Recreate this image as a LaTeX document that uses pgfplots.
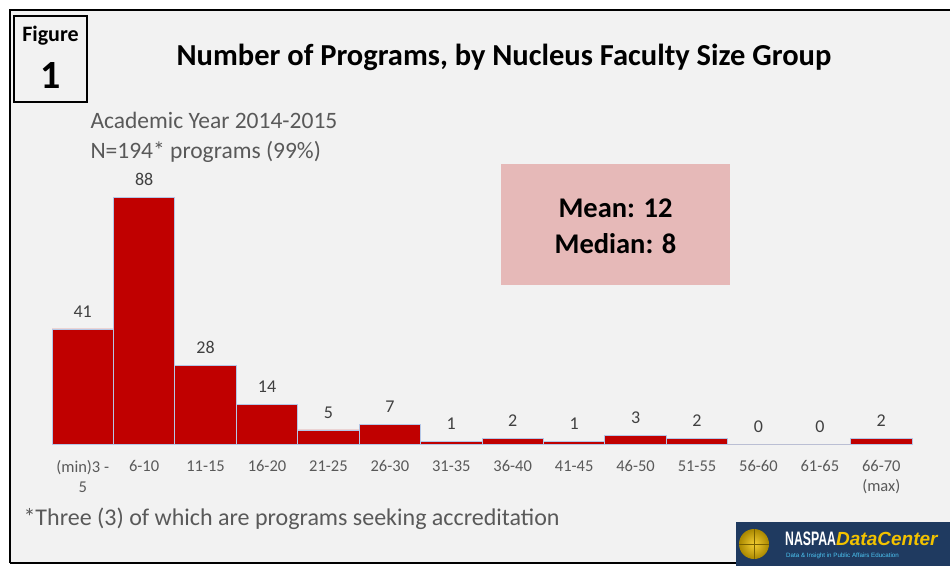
\documentclass[border=0pt]{standalone}
\usepackage{fontspec}
\setmainfont{Carlito}
\newfontfamily\arialfont{Liberation Sans}
\usepackage{pgfplots}
\pgfplotsset{compat=1.18}
\definecolor{barred}{HTML}{C00000}
\definecolor{bgray}{HTML}{F2F2F2}
\definecolor{txtgray}{HTML}{595959}
\definecolor{lblgray}{HTML}{404040}
\definecolor{edgeblue}{HTML}{B4C7E7}
\definecolor{pinkbox}{HTML}{E6B9B8}
\definecolor{navy}{HTML}{1F3A60}
\definecolor{gold}{HTML}{F2C200}
\begin{document}
\begin{tikzpicture}[x=1pt,y=1pt]
\fill[white] (0,0) rectangle (950,566);
\useasboundingbox (0,0) rectangle (950,566);
\fill[bgray] (10,3) rectangle (950,556);
\draw[black, line width=2pt] (10,3) -- (10,556) -- (950,556);
\draw[black, line width=2pt] (10,3) -- (736,3);
% Figure box
\draw[black, line width=2.5pt] (14,464) rectangle (87,550);
\node[font=\bfseries\fontsize{22}{24}\selectfont] at (50.5,530) {Figure};
\node[font=\bfseries\fontsize{40}{42}\selectfont] at (50.5,490) {1};
% Title
\node[font=\bfseries\fontsize{30.5}{34}\selectfont] at (504,509) {Number of Programs, by Nucleus Faculty Size Group};
\node[anchor=west, text=txtgray, font=\fontsize{23.5}{26}\selectfont] at (87,446) {Academic Year 2014-2015};
\node[anchor=west, text=txtgray, font=\fontsize{23.5}{26}\selectfont] at (87,414) {N=194* programs (99\%)};
% Mean box
\fill[pinkbox] (501,281) rectangle (730,402);
\node[font=\bfseries\fontsize{28.5}{32}\selectfont] at (615.5,358) {Mean: 12};
\node[font=\bfseries\fontsize{28.5}{32}\selectfont] at (615.5,322) {Median: 8};
% Footnote
\node[anchor=west, text=txtgray, font=\fontsize{24}{26}\selectfont] at (20,47) {*Three (3) of which are programs seeking accreditation};
% Logo
\fill[navy] (736,0) rectangle (950,44);
\shade[inner color=gold!80!white, outer color=gold!70!black] (754,22) circle (15);
\draw[gold!50!black, line width=0.4pt] (739,22) -- (769,22) (754,7) -- (754,37);
\node[anchor=west, inner sep=0, text=white, xscale=0.63, font=\arialfont\bfseries\fontsize{19.5}{20}\selectfont] at (785,27) {NASPAA};
\node[anchor=west, inner sep=0, text=gold, font=\arialfont\bfseries\itshape\fontsize{19}{20}\selectfont] at (836,27) {DataCenter};
\node[anchor=west, inner sep=0, text=cyan!70!white, font=\arialfont\fontsize{6.2}{7}\selectfont] at (786,10) {Data \& Insight in Public Affairs Education};
\begin{axis}[
  at={(52pt,122pt)}, anchor=south west,
  scale only axis, width=860pt, height=247pt,
  xmin=0, xmax=14, ymin=0, ymax=88,
  axis line style={draw=none},
  ytick=\empty,
  xtick={0.5,1.5,...,13.5},
  xticklabels={{(min)3 -\\5},6-10,11-15,16-20,21-25,26-30,31-35,36-40,41-45,46-50,51-55,56-60,61-65,{66-70\\(max)}},
  major tick length=0pt,
  xticklabel style={text=txtgray, font=\fontsize{16.5}{20}\selectfont, align=center, anchor=north, yshift=-13pt},
  clip=false,
  /pgf/number format/assume math mode=true,
  nodes near coords,
  every node near coord/.append style={text=lblgray, font=\fontsize{18}{20}\selectfont, anchor=south, yshift=8pt},
]
\draw[gray!40, line width=1pt] (axis cs:0,0) -- (axis cs:14,0);
\addplot[ybar, bar width=1, fill=barred, draw=edgeblue, line width=0.8pt] coordinates {
(0.5,41) (1.5,88) (2.5,28) (3.5,14) (4.5,5) (5.5,7) (6.5,1) (7.5,2) (8.5,1) (9.5,3) (10.5,2) (11.5,0) (12.5,0) (13.5,2)
};
\end{axis}
\end{tikzpicture}
\end{document}
